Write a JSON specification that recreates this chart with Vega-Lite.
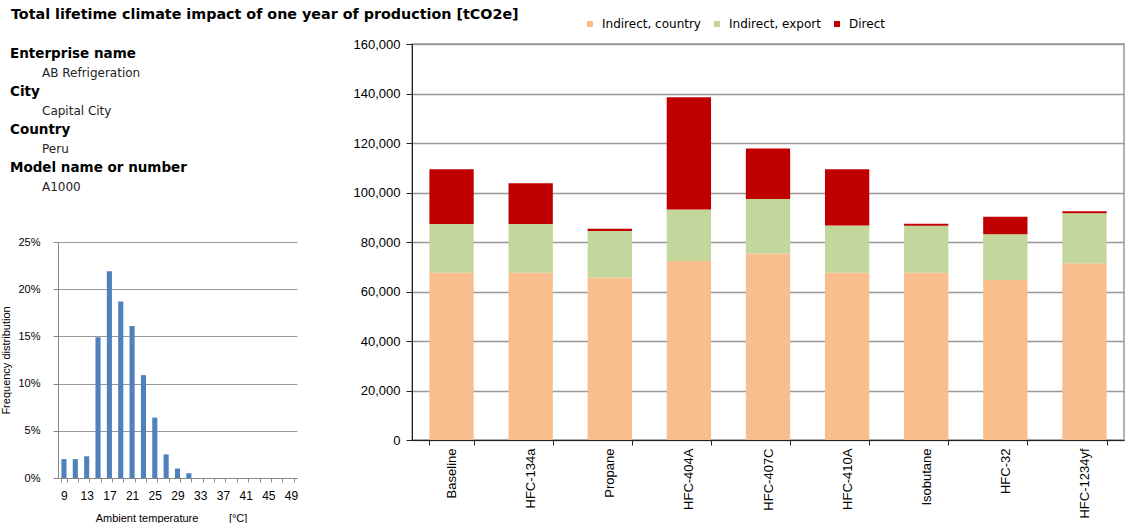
{
  "$schema": "https://vega.github.io/schema/vega-lite/v6.json",
  "background": "white",
  "padding": {"left": 0, "top": 7, "right": 4, "bottom": 0},
  "title": {
    "text": "Total lifetime climate impact of one year of production [tCO2e]",
    "anchor": "start",
    "font": "DejaVu Sans",
    "fontSize": 14.3,
    "fontWeight": "bold",
    "color": "black",
    "dx": 10,
    "offset": -4
  },
  "config": {
    "view": {"stroke": null},
    "font": "Liberation Sans",
    "axis": {
      "labelFont": "Liberation Sans",
      "labelColor": "black",
      "titleFont": "Liberation Sans",
      "titleFontWeight": "normal",
      "titleColor": "black"
    },
    "legend": {"labelFont": "DejaVu Sans", "labelColor": "black"}
  },
  "spacing": 54,
  "hconcat": [
    {
      "spacing": 40,
      "vconcat": [
        {
          "width": 200,
          "height": 152,
          "data": {
            "values": [
              {"line": 1, "kind": "header", "label": "Enterprise name"},
              {"line": 2, "kind": "value", "label": "AB Refrigeration"},
              {"line": 3, "kind": "header", "label": "City"},
              {"line": 4, "kind": "value", "label": "Capital City"},
              {"line": 5, "kind": "header", "label": "Country"},
              {"line": 6, "kind": "value", "label": "Peru"},
              {"line": 7, "kind": "header", "label": "Model name or number"},
              {"line": 8, "kind": "value", "label": "A1000"}
            ]
          },
          "encoding": {
            "x": {"field": "kind", "type": "nominal", "scale": {"type": "point", "domain": ["header", "value"], "range": [-48, -16], "padding": 0}, "axis": null},
            "y": {"field": "line", "type": "ordinal", "scale": {"type": "point", "padding": 0.5}, "axis": null},
            "text": {"field": "label"}
          },
          "layer": [
            {
              "transform": [{"filter": "datum.kind == 'header'"}],
              "mark": {"type": "text", "align": "left", "baseline": "middle", "font": "DejaVu Sans", "fontWeight": "bold", "fontSize": 13.5, "color": "black"}
            },
            {
              "transform": [{"filter": "datum.kind == 'value'"}],
              "mark": {"type": "text", "align": "left", "baseline": "middle", "font": "DejaVu Sans", "fontSize": 12, "color": "#222"}
            }
          ]
        },
        {
          "width": 239,
          "height": 236,
          "data": {
            "values": [
              {"temp": 9, "freq": 0.02},
              {"temp": 11, "freq": 0.02},
              {"temp": 13, "freq": 0.023},
              {"temp": 15, "freq": 0.149},
              {"temp": 17, "freq": 0.219},
              {"temp": 19, "freq": 0.187},
              {"temp": 21, "freq": 0.161},
              {"temp": 23, "freq": 0.109},
              {"temp": 25, "freq": 0.064},
              {"temp": 27, "freq": 0.025},
              {"temp": 29, "freq": 0.01},
              {"temp": 31, "freq": 0.005},
              {"temp": 33, "freq": 0},
              {"temp": 35, "freq": 0},
              {"temp": 37, "freq": 0},
              {"temp": 39, "freq": 0},
              {"temp": 41, "freq": 0},
              {"temp": 43, "freq": 0},
              {"temp": 45, "freq": 0},
              {"temp": 47, "freq": 0},
              {"temp": 49, "freq": 0}
            ]
          },
          "mark": {"type": "bar", "color": "#4F81BD"},
          "encoding": {
            "x": {
              "field": "temp",
              "type": "ordinal",
              "scale": {"paddingInner": 0.55, "paddingOuter": 0.3},
              "axis": {
                "title": "Ambient temperature\u00a0\u00a0\u00a0\u00a0\u00a0\u00a0\u00a0\u00a0\u00a0\u00a0[°C]",
                "titleX": 113,
                "labelAngle": 0,
                "labelExpr": "(datum.value - 9) % 4 == 0 ? datum.label : ''",
                "tickBand": "extent",
                "tickSize": 4,
                "domainColor": "#888",
                "tickColor": "#888",
                "labelFontSize": 12,
                "titleFontSize": 11,
                "labelPadding": 8,
                "titlePadding": 11,
                "grid": false
              }
            },
            "y": {
              "field": "freq",
              "type": "quantitative",
              "scale": {"domain": [0, 0.25]},
              "axis": {
                "title": "Frequency distribution",
                "format": ".0%",
                "values": [0, 0.05, 0.1, 0.15, 0.2, 0.25],
                "gridColor": "#999",
                "domainColor": "#888",
                "tickColor": "#888",
                "tickSize": 5,
                "labelPadding": 13,
                "labelFontSize": 11,
                "titleFontSize": 11,
                "titlePadding": 6
              }
            }
          }
        }
      ]
    },
    {
      "width": 712,
      "height": 396,
      "view": {"stroke": "#999", "strokeWidth": 1.5},
      "data": {
        "values": [
          {"refrigerant": "Baseline", "Indirect, country": 67600, "Indirect, export": 19700, "Direct": 22100},
          {"refrigerant": "HFC-134a", "Indirect, country": 67600, "Indirect, export": 19700, "Direct": 16400},
          {"refrigerant": "Propane", "Indirect, country": 65700, "Indirect, export": 18700, "Direct": 1000},
          {"refrigerant": "HFC-404A", "Indirect, country": 72300, "Indirect, export": 20800, "Direct": 45400},
          {"refrigerant": "HFC-407C", "Indirect, country": 75400, "Indirect, export": 22000, "Direct": 20400},
          {"refrigerant": "HFC-410A", "Indirect, country": 67600, "Indirect, export": 19100, "Direct": 22700},
          {"refrigerant": "Isobutane", "Indirect, country": 67600, "Indirect, export": 19000, "Direct": 800},
          {"refrigerant": "HFC-32", "Indirect, country": 64600, "Indirect, export": 18500, "Direct": 7100},
          {"refrigerant": "HFC-1234yf", "Indirect, country": 71400, "Indirect, export": 20200, "Direct": 800}
        ]
      },
      "transform": [
        {"fold": ["Indirect, country", "Indirect, export", "Direct"], "as": ["component", "value"]},
        {"calculate": "indexof(['Indirect, country','Indirect, export','Direct'], datum.component)", "as": "stackOrder"}
      ],
      "mark": {"type": "bar"},
      "encoding": {
        "x": {
          "field": "refrigerant",
          "type": "nominal",
          "sort": null,
          "scale": {"paddingInner": 0.44, "paddingOuter": 0.22},
          "axis": {
            "title": null,
            "labelAngle": -90,
            "tickBand": "extent",
            "tickSize": 5,
            "domainColor": "#222",
            "tickColor": "#222",
            "labelFontSize": 13,
            "labelPadding": 3
          }
        },
        "y": {
          "field": "value",
          "type": "quantitative",
          "stack": "zero",
          "scale": {"domain": [0, 160000]},
          "axis": {
            "title": null,
            "format": ",.0f",
            "values": [0, 20000, 40000, 60000, 80000, 100000, 120000, 140000, 160000],
            "gridColor": "#999",
            "gridWidth": 1.5,
            "domainColor": "#222",
            "tickColor": "#222",
            "tickSize": 6,
            "labelFontSize": 13,
            "labelPadding": 6
          }
        },
        "color": {
          "field": "component",
          "type": "nominal",
          "scale": {"domain": ["Indirect, country", "Indirect, export", "Direct"], "range": ["#F8BE8E", "#C3D69B", "#C00000"]},
          "legend": {
            "title": null,
            "orient": "none",
            "direction": "horizontal",
            "legendX": 526,
            "legendY": -26,
            "symbolType": "square",
            "symbolSize": 36,
            "symbolStrokeWidth": 0,
            "labelFontSize": 12,
            "labelOffset": 6,
            "columnPadding": 10
          }
        },
        "order": {"field": "stackOrder", "type": "quantitative", "sort": "ascending"}
      }
    }
  ]
}
